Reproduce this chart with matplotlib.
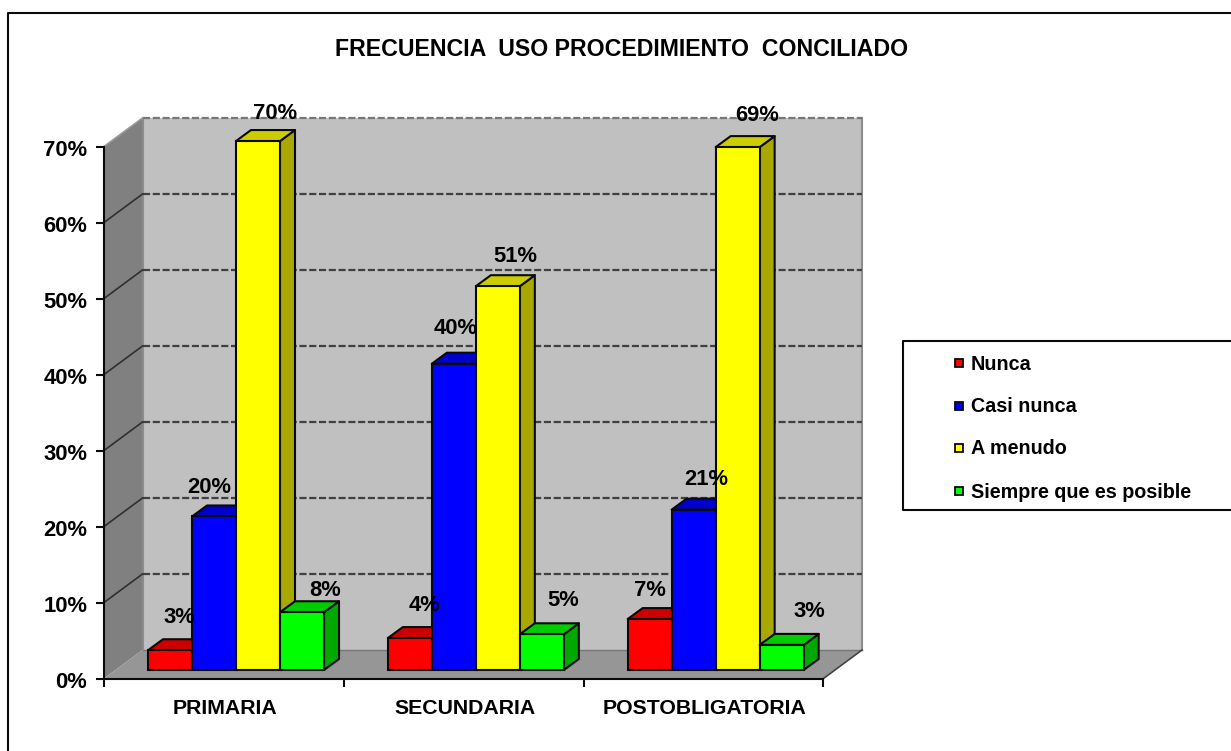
import matplotlib
matplotlib.use('Agg')
import matplotlib.pyplot as plt
from matplotlib.patches import Polygon, Rectangle
from matplotlib.lines import Line2D
from matplotlib.transforms import ScaledTranslation

plt.rcParams['font.family'] = ['Liberation Sans', 'DejaVu Sans']

categorias = ['PRIMARIA', 'SECUNDARIA', 'POSTOBLIGATORIA']
series = ['Nunca', 'Casi nunca', 'A menudo', 'Siempre que es posible']
nunca = [2.6, 4.2, 6.7]
casi_nunca = [20.2, 40.3, 21.1]
a_menudo = [69.6, 50.5, 68.8]
siempre = [7.6, 4.7, 3.3]
etiquetas = [['3%', '4%', '7%'], ['20%', '40%', '21%'], ['70%', '51%', '69%'], ['8%', '5%', '3%']]
ticks_y = [0, 10, 20, 30, 40, 50, 60, 70]

colores = ['#FF0000', '#0000FF', '#FFFF00', '#00FF00']
colores_lado = ['#A80000', '#0000A8', '#A8A800', '#00A800']
colores_arriba = ['#CC0000', '#0000CC', '#CCCC00', '#00CC00']

# desplazamiento de las etiquetas respecto a la esquina sup. izq. de la barra (px)
offset_etiquetas = [[(31, 33), (37, 33), (22, 29)],
                    [(17, 29), (24, 35), (35, 30)],
                    [(39, 28), (39, 30), (42, 32)],
                    [(45, 22), (43, 34), (50, 33)]]

W, H = 1231, 751
fig = plt.figure(figsize=(W / 100, H / 100), dpi=100)
fig.patch.set_facecolor('white')

X0, X1, Y0, Y70 = 104, 823.5, 678.5, 146.5
ax = fig.add_axes([X0 / W, 1 - Y0 / H, (X1 - X0) / W, (Y0 - Y70) / H])
ax.set_xlim(0, 3)
ax.set_ylim(0, 70)
ax.patch.set_visible(False)

px_x = 3 / (X1 - X0)
px_y = 70 / (Y0 - Y70)
fx, fy = 38.5 * px_x, 28.5 * px_y  # fondo de la caja
bx, by = 15 * px_x, 11 * px_y  # fondo de cada barra
ancho = 44 * px_x
base = 8.5 * px_y
negro = '#0a0a0a'


def poli(puntos, color, borde='none', lw=0, z=1):
    ax.add_patch(Polygon(puntos, closed=True, facecolor=color, edgecolor=borde, lw=lw, zorder=z, clip_on=False,
                         joinstyle='round'))


# paredes
poli([(fx, fy), (3 + fx, fy), (3 + fx, 70 + fy), (fx, 70 + fy)], '#C0C0C0')
poli([(0, 0), (fx, fy), (fx, 70 + fy), (0, 70)], '#808080')
poli([(0, 0), (3, 0), (3 + fx, fy), (fx, fy)], '#969696')
ax.plot([fx, 3 + fx], [fy, fy], color='#777777', lw=1, zorder=1.5, clip_on=False)
ax.plot([fx, fx], [fy, 70 + fy], color='#8c8c8c', lw=1.5, zorder=1.5, clip_on=False)
ax.plot([3 + fx, 3 + fx], [fy, 70 + fy], color='#8c8c8c', lw=1.5, zorder=1.5, clip_on=False)
ax.plot([3, 3 + fx], [0, fy], color='#444444', lw=1.2, zorder=1.5, clip_on=False)

for v in ticks_y[1:]:
    ax.plot([fx, 3 + fx], [v + fy, v + fy], color='#404040' if v < 70 else '#777777', lw=1.6,
            dashes=(3.2, 1.2), zorder=1.6, clip_on=False)
    ax.plot([0, fx], [v, v + fy], color='#303030' if v < 70 else '#999999', lw=1.2, zorder=1.6, clip_on=False)

# barras
valores = [nunca, casi_nunca, a_menudo, siempre]
z = 2
for c in range(3):
    for s in range(4):
        izq = c + ancho * (s + 1)
        v = valores[s][c]
        ax.bar(izq, v, ancho, bottom=base, align='edge', color=colores[s], edgecolor=negro, lw=1.5,
               zorder=z + 0.2, clip_on=False)
        der = izq + ancho
        arriba = base + v
        poli([(der, base), (der + bx, base + by), (der + bx, arriba + by), (der, arriba)], colores_lado[s],
             negro, 1.5, z)
        poli([(izq, arriba), (der, arriba), (der + bx, arriba + by), (izq + bx, arriba + by)], colores_arriba[s],
             negro, 1.5, z)
        z += 0.5

for s in range(4):
    for c in range(3):
        izq = c + ancho * (s + 1)
        ox, oy = offset_etiquetas[s][c]
        ax.annotate(etiquetas[s][c], (izq, base + valores[s][c]), xytext=(ox * 0.72, oy * 0.72),
                    textcoords='offset points', ha='center', va='center', fontsize=15.8,
                    fontweight='bold', color='black', zorder=20, annotation_clip=False)

# ejes
for lado in ['top', 'right']:
    ax.spines[lado].set_visible(False)
for lado in ['left', 'bottom']:
    ax.spines[lado].set_linewidth(1.5)
    ax.spines[lado].set_color(negro)
    ax.spines[lado].set_zorder(15)
ax.set_yticks(ticks_y)
ax.set_yticklabels([f'{v}%' for v in ticks_y], fontsize=15.8, fontweight='bold', color='black')
ax.set_xticks([0, 1, 2, 3])
ax.set_xticklabels([])
ax.tick_params(axis='both', length=5.5, width=1.5, color=negro)
ax.tick_params(axis='y', pad=6.5)
bajar = ScaledTranslation(0, -1 / 100, fig.dpi_scale_trans)
for lab in ax.get_yticklabels():
    lab.set_transform(lab.get_transform() + bajar)
for i, nombre in enumerate(categorias):
    ax.annotate(nombre, (i + 0.5, 0), xytext=(1, -30 * 0.72), textcoords='offset points', ha='center', va='center',
                fontsize=15.3, fontweight='bold', color='black', annotation_clip=False)

# titulo
fig.text(621.5 / W, 1 - 49 / H, 'FRECUENCIA  USO PROCEDIMIENTO  CONCILIADO', ha='center', va='center',
         fontsize=16.7, fontweight='bold', color='black')

# marco exterior
fig.add_artist(Line2D([8 / W, 8 / W, 1], [0, 1 - 13 / H, 1 - 13 / H], color=negro, lw=1.5))

# leyenda
fig.add_artist(Line2D([1, 903 / W, 903 / W, 1], [1 - 340.5 / H, 1 - 340.5 / H, 1 - 509.5 / H, 1 - 509.5 / H],
                      color=negro, lw=1.5))
ys_leyenda = [364, 407, 449, 492]
for nombre, color, y in zip(series, colores, ys_leyenda):
    fig.add_artist(Rectangle((955 / W, 1 - (y + 3) / H), 8 / W, 8 / H, transform=fig.transFigure,
                             facecolor=color, edgecolor=negro, lw=1.3))
    fig.text(971 / W, 1 - y / H, nombre, ha='left', va='center', fontsize=14.2, fontweight='bold', color='black')

fig.savefig('out.png', dpi=100)
